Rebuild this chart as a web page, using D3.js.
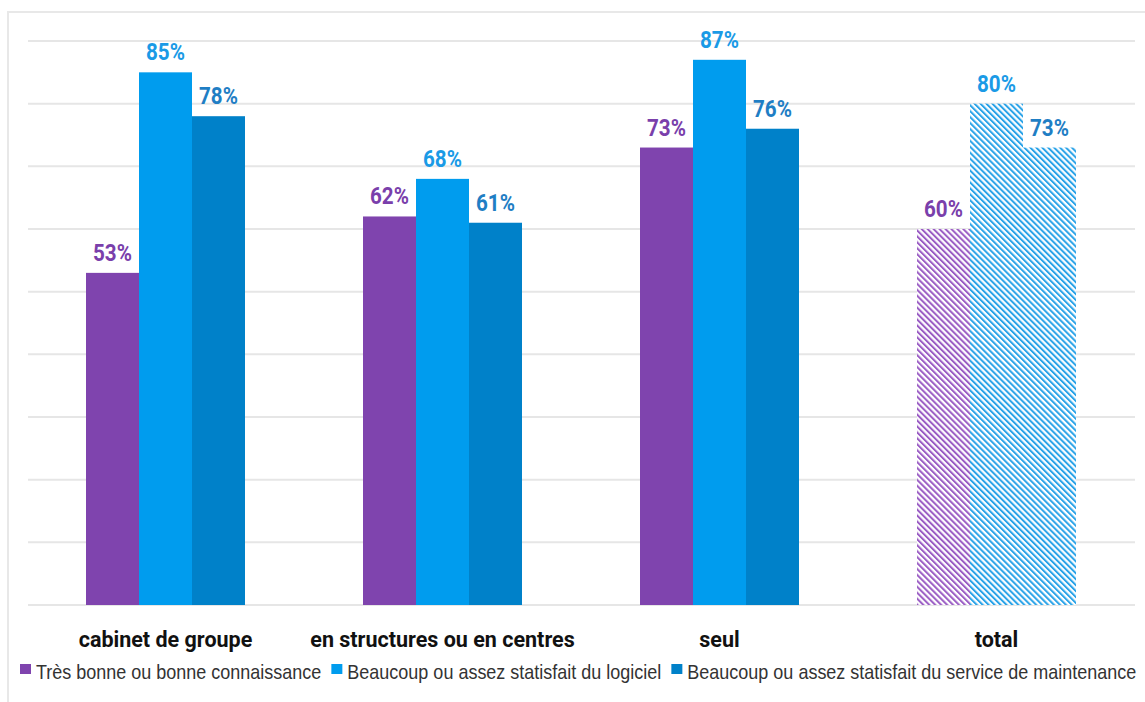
<!DOCTYPE html>
<html>
<head>
<meta charset="utf-8">
<script src="https://cdn.jsdelivr.net/npm/d3@7"></script>
<style>
  html, body { margin: 0; padding: 0; background: #fff; }
  svg { display: block; }
</style>
</head>
<body>
<svg id="chart" width="1145" height="702"></svg>
<script>
// Groups shown along the x axis
const categories = ["cabinet de groupe", "en structures ou en centres", "seul", "total"];
// Series names (legend order)
const seriesNames = [
  "Très bonne ou bonne connaissance",
  "Beaucoup ou assez statisfait du logiciel",
  "Beaucoup ou assez statisfait du service de maintenance"
];
// Percent values per series, one per category
const connaissance = [53, 62, 73, 60];
const logiciel = [85, 68, 87, 80];
const maintenance = [78, 61, 76, 73];
const gridTicks = [0, 10, 20, 30, 40, 50, 60, 70, 80, 90];

const series = [connaissance, logiciel, maintenance];
const fills = ["#7f44ae", "#009cee", "#0081c9"];
const labelColors = ["#7a3fab", "#1a9ae6", "#1f7ec4"];
const hatchColors = ["#9a5cc4", "#2aa3e8", "#2aa3e8"];

const svg = d3.select("#chart");
const W = 1145, H = 702;
const squeeze = 0.86;        // narrow lettering for value labels
const legendSqueeze = 0.857; // narrow lettering for the legend

// Outer frame
svg.append("rect")
  .attr("x", 8).attr("y", 12)
  .attr("width", W + 10).attr("height", H)
  .attr("fill", "none").attr("stroke", "#e8e8e8").attr("stroke-width", 2);

// Hatch patterns for the total group
const defs = svg.append("defs");
hatchColors.forEach((c, i) => {
  const p = defs.append("pattern")
    .attr("id", "hatch" + i)
    .attr("patternUnits", "userSpaceOnUse")
    .attr("width", 4.2).attr("height", 4.2)
    .attr("patternTransform", "rotate(-45)");
  p.append("rect").attr("width", 4.2).attr("height", 4.2).attr("fill", "#fff");
  p.append("rect").attr("x", 0).attr("width", 2).attr("height", 4.2).attr("fill", c);
});

const x0 = d3.scaleBand()
  .domain(categories)
  .range([27, 1135])
  .paddingInner(0.426)
  .paddingOuter(0.213);

const x1 = d3.scaleBand()
  .domain(d3.range(series.length))
  .range([0, x0.bandwidth()]);

const y = d3.scaleLinear().domain([0, 90]).range([605, 41]);

// Horizontal gridlines
svg.append("g").selectAll("line")
  .data(gridTicks)
  .join("line")
  .attr("x1", 28).attr("x2", 1135)
  .attr("y1", d => y(d)).attr("y2", d => y(d))
  .attr("stroke", "#e6e6e6").attr("stroke-width", 2);

// Bars and value labels
const groups = svg.append("g").selectAll("g")
  .data(categories)
  .join("g")
  .attr("transform", c => `translate(${x0(c)},0)`);

groups.each(function (c, ci) {
  const g = d3.select(this);
  series.forEach((vals, si) => {
    const v = vals[ci];
    const isTotal = c === "total";
    g.append("rect")
      .attr("x", x1(si))
      .attr("y", y(v))
      .attr("width", x1.bandwidth())
      .attr("height", y(0) - y(v))
      .attr("fill", isTotal ? `url(#hatch${si})` : fills[si]);
    g.append("text")
      .attr("transform", `translate(${x1(si) + x1.bandwidth() / 2},${y(v) - 12}) scale(${squeeze},1)`)
      .attr("text-anchor", "middle")
      .attr("font-family", "Roboto, sans-serif")
      .attr("font-weight", "bold")
      .attr("font-size", 24)
      .attr("fill", labelColors[si])
      .text(v + "%");
  });
});

// Category labels
svg.append("g").selectAll("text")
  .data(categories)
  .join("text")
  .attr("x", c => x0(c) + x0.bandwidth() / 2)
  .attr("y", 647)
  .attr("text-anchor", "middle")
  .attr("font-family", "Roboto, sans-serif")
  .attr("font-weight", "bold")
  .attr("font-size", 21.5)
  .attr("fill", "#111")
  .text(d => d);

// Legend: square swatch + label, laid out left to right
const legend = svg.append("g").attr("transform", "translate(20,664)");
let lx = 0;
seriesNames.forEach((name, i) => {
  const item = legend.append("g").attr("transform", `translate(${lx},0)`);
  item.append("rect")
    .attr("width", 11).attr("height", 10)
    .attr("fill", fills[i]);
  const t = item.append("text")
    .attr("transform", `translate(16,15) scale(${legendSqueeze},1)`)
    .attr("font-family", "'Liberation Sans', Arial, sans-serif")
    .attr("font-size", 21)
    .attr("fill", "#333")
    .text(name);
  const w = t.node().getComputedTextLength() * legendSqueeze;
  lx += 16 + w + 10;
});
</script>
</body>
</html>
